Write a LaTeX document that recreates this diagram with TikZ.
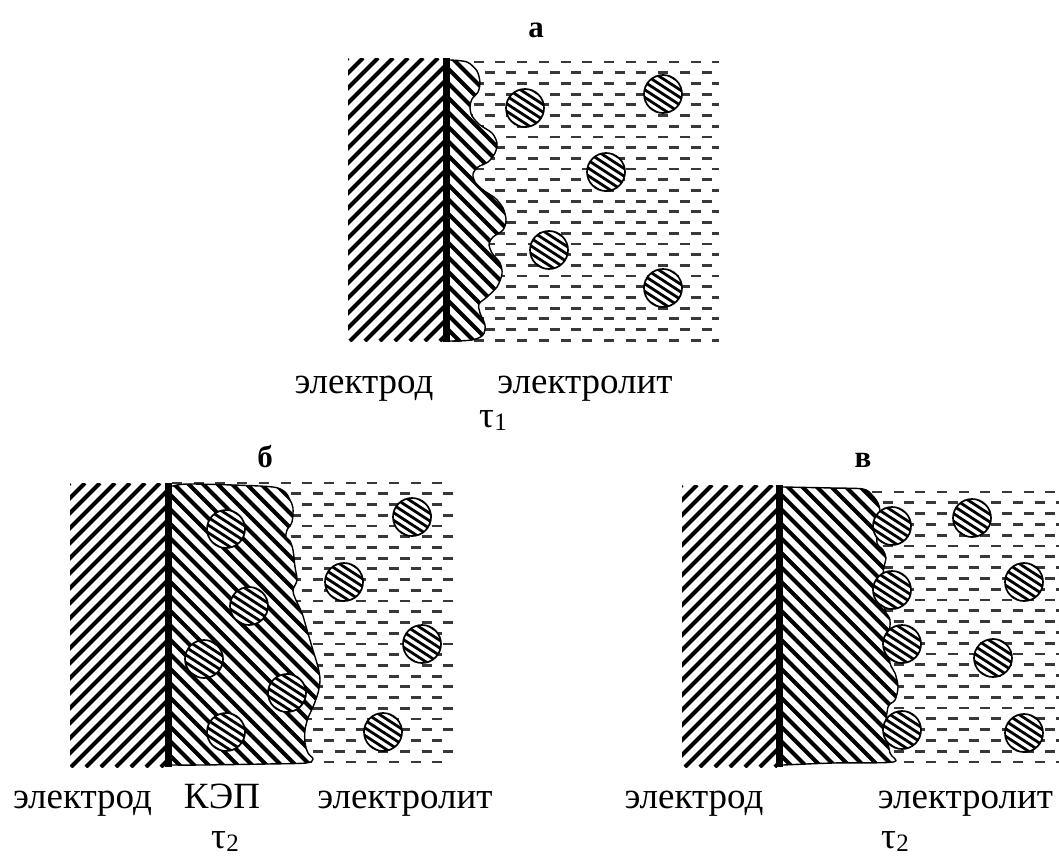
\documentclass[tikz,border=0pt]{standalone}
\usepackage{fontspec}
\setmainfont{Liberation Serif}
% lines "/" inside box x1,y1,x2,y2 (image coords, y down), period, width
\newcommand\hup[6]{%
  \pgfmathtruncatemacro\hN{((#3)+(#4)-(#1)-(#2))/(#5)+1}%
  \foreach \i in {0,...,\hN}{%
    \pgfmathsetmacro\hc{(#1)+(#2)+\i*(#5)}%
    \pgfmathsetmacro\hxa{\hc-(#2)}%
    \pgfmathsetmacro\hxb{\hc-(#4)}%
    \draw[line width=#6] (\hxa,#2) -- (\hxb,#4);}}
% lines "\" inside box
\newcommand\hdown[6]{%
  \pgfmathtruncatemacro\hN{((#3)-(#2)-(#1)+(#4))/(#5)+1}%
  \foreach \i in {0,...,\hN}{%
    \pgfmathsetmacro\hc{(#1)-(#4)+\i*(#5)}%
    \pgfmathsetmacro\hxa{\hc+(#2)}%
    \pgfmathsetmacro\hxb{\hc+(#4)}%
    \draw[line width=#6] (\hxa,#2) -- (\hxb,#4);}}
% particle
\newcommand\ptcl[2]{%
  \fill[white] (#1,#2) circle[radius=19pt];
  \begin{scope}
    \clip (#1,#2) circle[radius=19pt];
    \begin{scope}[shift={(#1,#2)},rotate=-33]
      \foreach \k in {-4,...,4}{\draw[line width=2.8pt] (-26,\k*6.4) -- (26,\k*6.4);}
    \end{scope}
  \end{scope}
  \draw[line width=1.7pt] (#1,#2) circle[radius=19pt];}
% electrolyte rows: x1, x2, y0, step, count-1
\newcommand\liquid[5]{%
  \foreach \r in {0,...,#5}{%
    \pgfmathsetmacro\yy{#3+\r*#4}%
    \pgfmathsetmacro\ph{mod(\r,2)*10.85}%
    \draw[draw=black!78,line width=2.8pt,dash pattern=on 10pt off 11.7pt,dash phase=\ph pt] (#1,\yy) -- (#2,\yy);}}
\newcommand\tausub[1]{τ\kern0.5pt\raisebox{-3pt}{\fontsize{25}{25}\selectfont #1}}
\begin{document}
\begin{tikzpicture}[x=1pt,y=-1pt,
  lbl/.style={anchor=base,inner sep=0pt,font=\fontsize{37}{40}\selectfont},
  ttl/.style={anchor=base,inner sep=0pt,font=\fontsize{31}{34}\selectfont\bfseries},
  wall/.style={line width=6.5pt},
  edge/.style={line width=1.4pt,line join=round}]
\useasboundingbox[fill=white] (0,0) rectangle (1059,857);

% ================= panel a =================
\begin{scope}
  \clip (348,58) rectangle (444,341);
  \hup{348}{58}{444}{341}{15}{4.0}
\end{scope}
\liquid{452}{719}{62}{10.7}{26}
\path[save path=\coata] (446,60) -- plot[smooth] coordinates {(450,60) (467,62) (477,71) (480,83) (478,92) (472,99) (470,107) (472,116) (480,125) (492,133) (497,143) (495,153) (488,162) (478,167) (473,174) (475,182) (483,190) (495,198) (503,208) (506,220) (503,230) (493,237) (489,244) (492,253) (500,263) (502,274) (497,287) (487,297) (479,304) (480,313) (485,325) (483,335) (472,340) (450,341)} -- (446,341) -- cycle;
\fill[white,use path=\coata];
\begin{scope}
  \path[use path=\coata,clip];
  \hdown{446}{58}{510}{342}{14.5}{4.0}
\end{scope}
\draw[edge,use path=\coata];
\draw[wall] (446.5,58) -- (446.5,342);
\ptcl{525}{108}
\ptcl{663}{94}
\ptcl{606}{172}
\ptcl{549}{250}
\ptcl{663}{288}

\node[ttl] (ta) at (536,37) {а};
\node[lbl] (ea) at (364,393) {электрод};
\node[lbl] (la) at (585,393) {электролит};
\node[lbl] (tau1) at (493,427) {\tausub{1}};

% ================= panel b =================
\begin{scope}
  \clip (70,483) rectangle (167,767);
  \hup{70}{483}{167}{767}{15}{4.0}
\end{scope}
\liquid{172}{453}{483}{10.73}{26}
\path[save path=\coatb] (168,486) -- plot[smooth] coordinates {(173,486) (187,484) (233,485) (273,487) (285,492) (290,500) (293,508) (292,522) (287,530) (286,537) (290,541) (293,550) (295,567) (297,580) (293,590) (295,598) (302,613) (307,630) (312,647) (318,667) (320,680) (318,693) (313,707) (308,718) (305,730) (305,743) (308,753) (313,759) (306,763) (267,764) (200,765) (173,765)} -- (168,765) -- cycle;
\fill[white,use path=\coatb];
\begin{scope}
  \path[use path=\coatb,clip];
  \hdown{168}{482}{325}{768}{14.5}{4.0}
\end{scope}
\draw[edge,use path=\coatb];
\draw[wall] (168.5,483) -- (168.5,767);
\ptcl{226}{529}
\ptcl{249}{606}
\ptcl{204}{659}
\ptcl{287}{693}
\ptcl{226}{732}
\ptcl{412}{517}
\ptcl{344}{582}
\ptcl{422}{644}
\ptcl{383}{732}

\node[ttl] (tb) at (265,467) {б};
\node[lbl] (eb) at (82.5,808) {электрод};
\node[lbl] (kb) at (222,808) {КЭП};
\node[lbl] (lb) at (405,808) {электролит};
\node[lbl] (tau2b) at (225,848) {\tausub{2}};

% ================= panel c =================
\begin{scope}
  \clip (682,485) rectangle (777,767);
  \hup{682}{485}{777}{767}{15}{4.0}
\end{scope}
\liquid{785}{1059}{492}{10.8}{25}
\path[save path=\coatc] (779,487) -- plot[smooth] coordinates {(783,487) (833,488) (863,489) (872,495) (878,503) (880,512) (878,528) (877,543) (883,550) (886,558) (884,567) (882,585) (885,610) (890,620) (889,640) (890,663) (895,673) (898,687) (895,700) (888,707) (886,730) (890,753) (893,762) (833,763) (783,765)} -- (779,765) -- cycle;
\fill[white,use path=\coatc];
\begin{scope}
  \path[use path=\coatc,clip];
  \hdown{779}{485}{905}{768}{14.5}{4.0}
\end{scope}
\draw[edge,use path=\coatc];
\draw[wall] (779.5,485) -- (779.5,767);
\ptcl{892}{526}
\ptcl{892}{590}
\ptcl{902}{644}
\ptcl{902}{730}
\ptcl{972}{518}
\ptcl{1024}{582}
\ptcl{993}{658}
\ptcl{1024}{733}

\node[ttl] (tc) at (863,467) {в};
\node[lbl] (ec) at (694,808) {электрод};
\node[lbl] (lc) at (965.5,808) {электролит};
\node[lbl] (tau2c) at (895,848) {\tausub{2}};
\end{tikzpicture}
\end{document}
